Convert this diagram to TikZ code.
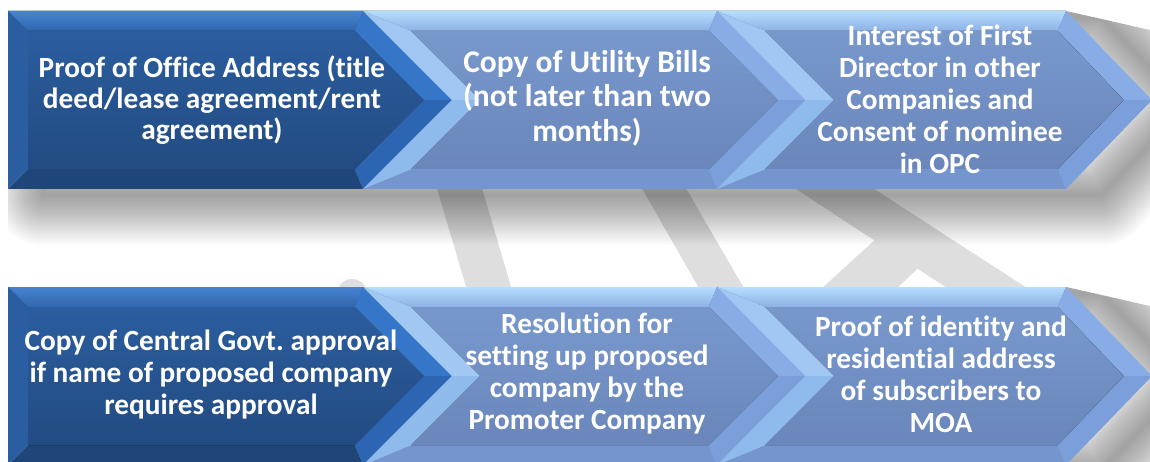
\documentclass[tikz,border=0pt]{standalone}
\usepackage{fontspec}
\setmainfont{Carlito}[Ligatures=NoCommon]
\definecolor{wmgray}{HTML}{DEDEDE}
\definecolor{dkA}{HTML}{2B5D9E}
\definecolor{dkB}{HTML}{224B82}
\definecolor{dkT1}{HTML}{4584D2}
\definecolor{dkT2}{HTML}{3166AC}
\definecolor{dkL}{HTML}{2B5EA1}
\definecolor{dkBo}{HTML}{1F4679}
\definecolor{dkTU}{HTML}{3676C8}
\definecolor{dkTL}{HTML}{2C66B2}
\definecolor{ltA}{HTML}{7898CC}
\definecolor{ltB}{HTML}{6A86BB}
\definecolor{ltT1}{HTML}{B5DEFF}
\definecolor{ltT2}{HTML}{8DB0E3}
\definecolor{ltBo}{HTML}{7595CF}
\definecolor{ltNU}{HTML}{A0C8F2}
\definecolor{ltNL}{HTML}{8EBAEC}
\definecolor{ltTU}{HTML}{88ADE6}
\definecolor{ltTL}{HTML}{7B9FDA}
\newcommand\chevshape[7]{%
  \pgfmathsetmacro\cyA{#4}\pgfmathsetmacro\cyB{#4+178}\pgfmathsetmacro\cyM{#4+89}%
  \pgfmathsetmacro\ciA{#4+20}\pgfmathsetmacro\ciB{#4+158}%
  \pgfmathsetmacro\cxQa{#1+(#5>0 ? 48.3 : 20)}%
  \pgfmathsetmacro\cxQf{#1+#5+(#5>0 ? 28.3 : 20)}%
  \pgfmathsetmacro\cxQb{#2-8.3}%
  \pgfmathsetmacro\cxQc{#3-28.3}%
  \pgfmathsetmacro\cxN{#1+#5}%
  \coordinate (#7-p1) at (#1,\cyA);
  \coordinate (#7-p2) at (#2,\cyA);
  \coordinate (#7-p3) at (#3,\cyM);
  \coordinate (#7-p4) at (#2,\cyB);
  \coordinate (#7-p5) at (#1,\cyB);
  \coordinate (#7-p6) at (\cxN,\cyM);
  \coordinate (#7-q1) at (\cxQa,\ciA);
  \coordinate (#7-q2) at (\cxQb,\ciA);
  \coordinate (#7-q3) at (\cxQc,\cyM);
  \coordinate (#7-q4) at (\cxQb,\ciB);
  \coordinate (#7-q5) at (\cxQa,\ciB);
  \coordinate (#7-q6) at (\cxQf,\cyM);
  \fill[#6top] (#7-p1) -- (#7-p2) -- (#7-q2) -- (#7-q1) -- cycle;
  \fill[#6tipu] (#7-p2) -- (#7-p3) -- (#7-q3) -- (#7-q2) -- cycle;
  \fill[#6tipl] (#7-p3) -- (#7-p4) -- (#7-q4) -- (#7-q3) -- cycle;
  \fill[#6bot] (#7-p4) -- (#7-p5) -- (#7-q5) -- (#7-q4) -- cycle;
  \fill[#6nl] (#7-p5) -- (#7-p6) -- (#7-q6) -- (#7-q5) -- cycle;
  \fill[#6nu] (#7-p6) -- (#7-p1) -- (#7-q1) -- (#7-q6) -- cycle;
  \fill[#6base] (#7-q1) -- (#7-q2) -- (#7-q3) -- (#7-q4) -- (#7-q5) -- (#7-q6) -- cycle;
}
\begin{document}
\frenchspacing
\begin{tikzpicture}[x=1pt,y=-1pt,
  wm/.style={fill=wmgray},
  shadowlayer/.style={draw=black,opacity=0.015,line join=round},
  dktop/.style={top color=dkT1,bottom color=dkT2},
  dktipu/.style={fill=dkTU},
  dktipl/.style={fill=dkTL},
  dkbot/.style={fill=dkBo},
  dknl/.style={fill=dkL},
  dknu/.style={fill=dkL},
  dkbase/.style={top color=dkA,bottom color=dkB},
  lttop/.style={top color=ltT1,bottom color=ltT2},
  lttipu/.style={fill=ltTU},
  lttipl/.style={fill=ltTL},
  ltbot/.style={fill=ltBo},
  ltnl/.style={fill=ltNL},
  ltnu/.style={fill=ltNU},
  ltbase/.style={top color=ltA,bottom color=ltB},
  txt/.style={text=white,align=center,inner sep=0pt,font=\fontsize{29.3}{32}\selectfont\bfseries}]
\useasboundingbox (0,0) rectangle (1150,462);
\fill[white] (0,0) rectangle (1150,462);
% watermark
\fill[wm] (436,185) -- (481,185) -- (512,290) -- (467,290) -- cycle;
\fill[wm] (640,185) -- (684,185) -- (745,290) -- (700,290) -- cycle;
\fill[wm] (790,185) -- (868,185) -- (1030,290) -- (950,290) -- cycle;
\fill[wm] (820,290) -- (895,290) -- (932,255) -- (889,227) -- cycle;
\fill[wm] (352,294) circle (15);
% shadows
\begin{scope}
\clip (8,11) -- (1066,11) -- (1150,30) -- (1150,287) -- (8,287) -- cycle;
\foreach \w in {4,8,...,100} {
  \draw[shadowlayer,line width=\w pt,shift={(35,6)}] (8,11) -- (1066,11) -- (1152,100) -- (1066,189) -- (8,189) -- cycle;
}
\end{scope}
\begin{scope}
\clip (8,287) -- (1066,287) -- (1150,306) -- (1150,462) -- (8,462) -- cycle;
\foreach \w in {4,8,...,100} {
  \draw[shadowlayer,line width=\w pt,shift={(35,6)}] (8,287) -- (1066,287) -- (1152,376) -- (1066,465) -- (8,465) -- cycle;
}
\end{scope}
% row 1
\chevshape{8}{363}{452}{11}{0}{dk}{a1}
\chevshape{363}{717}{806}{11}{89}{lt}{a2}
\chevshape{717}{1066}{1152}{11}{89}{lt}{a3}
% row 2
\chevshape{8}{363}{452}{287}{0}{dk}{b1}
\chevshape{363}{717}{806}{287}{89}{lt}{b2}
\chevshape{717}{1066}{1152}{287}{89}{lt}{b3}
% texts
\node[txt,font=\fontsize{29.3}{31}\selectfont\bfseries] (n1) at (212,100) {Proof of Office Address (title\\deed/lease agreement/rent\\agreement)};
\node[txt,font=\fontsize{31.5}{34.5}\selectfont\bfseries] (n2) at (587,98) {Copy of Utility Bills\\(not later than two\\months)};
\node[txt] (n3) at (940,99) {Interest of First\\Director in other\\Companies and\\Consent of nominee\\in OPC};
\node[txt] (n4) at (211,375) {Copy of Central Govt. approval\\if name of proposed company\\requires approval};
\node[txt] (n5) at (587,374) {Resolution for\\setting up proposed\\company by the\\Promoter Company};
\node[txt] (n6) at (941,374) {Proof of identity and\\residential address\\of subscribers to\\MOA};
\end{tikzpicture}
\end{document}
